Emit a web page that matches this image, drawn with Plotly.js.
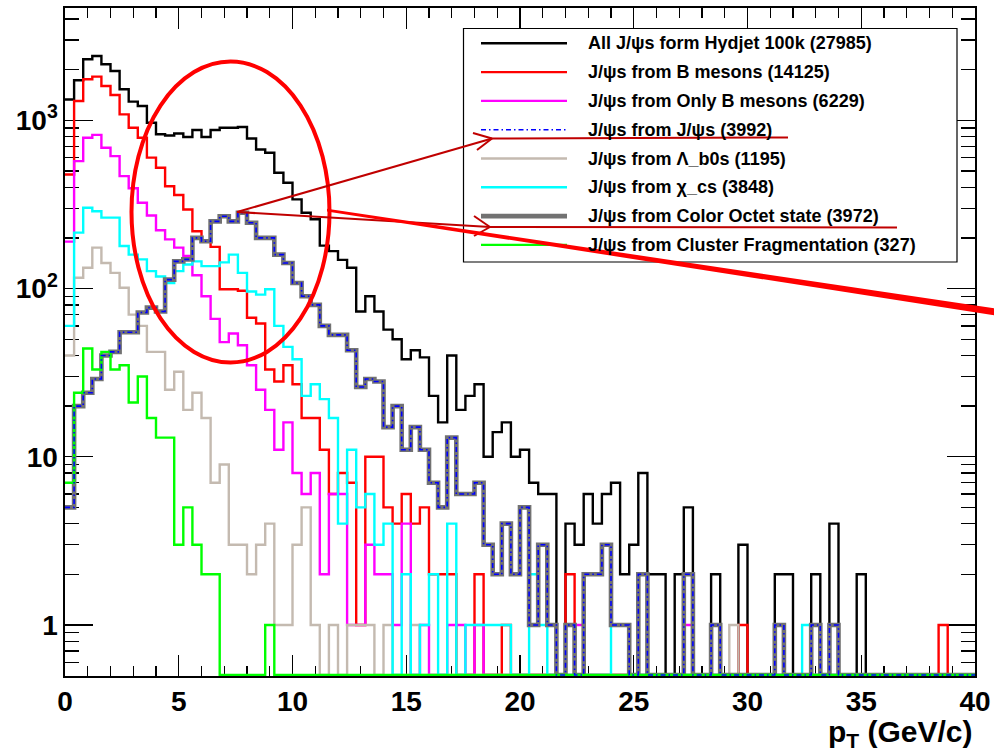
<!DOCTYPE html>
<html>
<head>
<meta charset="utf-8">
<script src="https://cdn.plot.ly/plotly-3.0.1.min.js"></script>
<style>
html,body{margin:0;padding:0;background:#fff;}
#chart{width:994px;height:753px;}
</style>
</head>
<body>
<div id="chart"></div>
<script>
// ---------------- data (counts per 0.4 GeV/c bin, 0..40 GeV/c) ----------------
const binWidth = 0.4;
const nBins = 100;

const allJpsi = [
 1330,1730,2307,2415,2154,1966,1530,1292,1216,968,
 826,813,835,797,876,797,876,904,904,913,
 780,671,642,488,426,339,282,258,180,167,
 148,133,73,90,73,57,50,38,43,39,
 23,16,40,19,23,27,10,14,16,10,
 11,7,6,6,0,4,3,6,4,6,
 7,2,3,8,2,2,0,2,5,0,
 0,2,0,0,3,0,0,0,2,2,
 0,0,2,0,4,0,0,2,0,0,
 0,0,0,0,0,0,0,0,0,0];

const fromBMesons = [
 477,1303,1754,1820,1600,1414,1086,904,788,600,
 523,406,360,295,219,190,177,99,99,97,
 67,62,33,28,35,27,17,17,11,6,
 8,7,1,10,10,5,4,6,4,5,
 2,2,2,0,0,2,0,0,1,0,
 0,0,0,0,0,2,0,0,0,0,
 0,0,0,0,0,0,0,0,0,0,
 0,0,0,0,1,0,0,0,0,0,
 0,0,0,0,0,0,0,0,0,0,
 0,0,0,0,0,0,1,0,0,0];

const fromOnlyBMesons = [
 190,572,788,820,687,613,466,395,324,272,
 222,196,175,156,120,90,66,48,54,46,
 35,25,19,11,16,8,6,8,2,6,
 6,1,1,3,2,2,1,4,0,1,
 0,0,1,1,0,1,0,0,0,0,
 0,0,0,0,0,0,1,0,0,0,
 0,0,0,0,0,0,0,0,1,0,
 0,0,0,0,0,0,0,0,0,0,
 0,0,0,0,0,0,0,0,0,0,
 0,0,0,0,0,0,0,0,0,0];

const fromJpsi = [
 5,20,24,29,40,42,55,55,72,77,
 73,113,145,149,200,191,251,269,251,282,
 246,200,200,159,142,108,90,80,60,53,
 53,43,26,29,28,15,20,11,15,11,
 7,5,13,6,6,7,3,2,4,2,
 5,1,3,1,0,1,0,2,2,3,
 1,1,0,2,0,0,0,0,2,0,
 0,1,0,0,0,0,0,0,1,0,
 0,0,1,0,1,0,0,0,0,0,
 0,0,0,0,0,0,0,0,0,0];

const fromLambdaB = [
 40,116,133,175,142,124,101,70,60,42,
 42,25,32,19,24,17,7,9,3,3,
 2,3,4,1,1,3,5,1,0,1,
 0,1,1,1,0,1,0,0,1,0,
 0,0,0,0,0,0,0,0,0,0,
 0,0,0,0,0,0,0,0,0,0,
 0,0,0,0,0,0,0,0,0,0,
 0,0,0,1,0,0,0,0,0,0,
 0,0,0,0,0,0,0,0,0,0,
 0,0,0,0,0,0,0,0,0,0];

const fromChiC = [
 60,215,302,288,264,264,179,159,149,127,
 118,108,127,139,145,136,136,143,159,124,
 96,92,99,60,45,38,23,27,22,17,
 4,11,5,6,3,4,0,2,0,1,
 2,0,4,0,1,1,1,1,1,0,
 0,2,1,0,0,0,0,0,0,0,
 1,1,0,0,0,0,0,0,0,0,
 0,0,0,0,0,0,0,0,0,0,
 0,1,0,0,0,0,0,0,0,0,
 0,0,0,0,0,0,0,0,0,0];

const fromColorOctet = [
 5,20,24,29,40,42,55,55,72,77,
 73,113,145,149,200,191,251,269,251,282,
 246,200,200,159,142,108,90,80,60,53,
 53,43,26,29,28,15,20,11,15,11,
 7,5,13,6,6,7,3,2,4,2,
 5,1,3,1,0,1,0,2,2,3,
 1,1,0,2,0,0,0,0,2,0,
 0,1,0,0,0,0,0,0,1,0,
 0,0,1,0,1,0,0,0,0,0,
 0,0,0,0,0,0,0,0,0,0];

const fromCluster = [
 7,24,44,33,42,33,35,21,30,17,
 13,13,3,5,3,2,2,0,0,0,
 0,0,1,0,0,0,0,0,0,0,
 0,0,0,0,0,0,0,0,0,0,
 0,0,0,0,0,0,0,0,0,0,
 0,0,0,0,0,0,0,0,0,0,
 0,0,0,0,0,0,0,0,0,0,
 0,0,0,0,0,0,0,0,0,0,
 0,0,0,0,0,0,0,0,0,0,
 0,0,0,0,0,0,0,0,0,0];

const seriesNames = [
 'All J/ψs form Hydjet 100k (27985)',
 'J/ψs from B mesons (14125)',
 'J/ψs from Only B mesons (6229)',
 'J/ψs from J/ψs (3992)',
 'J/ψs from Λ_b0s (1195)',
 'J/ψs from χ_cs (3848)',
 'J/ψs from Color Octet state (3972)',
 'J/ψs from Cluster Fragmentation (327)'
];

const xTickVals = [0,5,10,15,20,25,30,35,40];
const yTickVals = [1,10,100,1000];
const yTickText = ['1','10','10<sup>2</sup>','10<sup>3</sup>'];

// ---------------- styles ----------------
const FONT = 'Liberation Sans, Arial, Helvetica, sans-serif';
const yRange = [-0.3036, 3.668];
const ZERO_LEVEL = Math.pow(10, yRange[0] + 0.006); // empty bins drop to the frame bottom

const styles = [
 {color:'#000000', width:2.4},
 {color:'#ff0000', width:2.4},
 {color:'#ff00ff', width:2.4},
 {color:'#0000ff', width:1.6, dash:'5px,3px,1.5px,3px'},
 {color:'#c4bab0', width:2.4},
 {color:'#00ffff', width:2.4},
 {color:'#727272', width:4.6},
 {color:'#00ff00', width:2.4}
];
const seriesData = [allJpsi, fromBMesons, fromOnlyBMesons, fromJpsi, fromLambdaB, fromChiC, fromColorOctet, fromCluster];

// histogram edges
const edges = [];
for (let i = 0; i <= nBins; i++) edges.push(+(i * binWidth).toFixed(4));

function histTrace(vals, idx) {
  const y = vals.map(v => v > 0 ? v : ZERO_LEVEL);
  y.push(y[y.length - 1]);
  const st = styles[idx];
  return {
    x: edges, y: y, type: 'scatter', mode: 'lines', name: seriesNames[idx],
    line: {shape: 'hv', color: st.color, width: st.width, dash: st.dash || 'solid'},
    hoverinfo: 'skip'
  };
}

// draw order: black, red, magenta, beige, cyan, gray, green, blue
const order = [0,1,2,4,5,6,7,3];
const traces = order.map(i => histTrace(seriesData[i], i));

// ---------------- overlay geometry (pixel -> paper) ----------------
const L = 65, R = 19, T = 8, B = 77, W = 994, H = 753;
const PW = W - L - R, PH = H - T - B;
const X = px => (px - L) / PW;
const Y = py => (H - B - py) / PH;

const shapes = [];
// legend box
shapes.push({type:'rect', xref:'paper', yref:'paper', layer:'above',
  x0:X(463.5), x1:X(957), y0:Y(262), y1:Y(28.5),
  fillcolor:'#ffffff', line:{color:'#000000', width:1.2}});
const rowY = [43.3, 72.1, 100.9, 129.7, 158.5, 187.3, 216.1, 244.9];
const legendOrder = [0,1,2,3,4,5,6,7];
legendOrder.forEach((i, r) => {
  const st = styles[i];
  shapes.push({type:'line', xref:'paper', yref:'paper', layer:'above',
    x0:X(481), x1:X(567), y0:Y(rowY[r]), y1:Y(rowY[r]),
    line:{color:st.color, width:st.width, dash: st.dash || 'solid'}});
});
// red ellipse
shapes.push({type:'circle', xref:'paper', yref:'paper', layer:'above',
  x0:X(131.5), x1:X(329.5), y0:Y(362.5), y1:Y(61.5),
  line:{color:'#ff0000', width:4}});
// thin dark-red arrows with underlines
const DR = '#c00000';
function seg(x0,y0,x1,y1,w,c){
  shapes.push({type:'line', xref:'paper', yref:'paper', layer:'above',
    x0:X(x0), y0:Y(y0), x1:X(x1), y1:Y(y1), line:{color:c, width:w}});
}
seg(237,212,492,138.5,2,DR);
seg(492,138.5,473,133,2,DR);
seg(492,138.5,477,150,2,DR);
seg(492,138.5,788,137.5,2,DR);
seg(237,212,490,227,2,DR);
seg(490,227,474,216,2,DR);
seg(490,227,474,236,2,DR);
seg(490,227,897,227.5,2,DR);
// thick red wedge line
shapes.push({type:'path', xref:'paper', yref:'paper', layer:'above',
  path:'M '+X(327)+','+Y(208.8)+' L '+X(996)+','+Y(308.5)+' L '+X(996)+','+Y(315.5)+' L '+X(327)+','+Y(211.4)+' Z',
  fillcolor:'#ff0000', line:{width:0}});

const annotations = [];
legendOrder.forEach((i, r) => {
  annotations.push({xref:'paper', yref:'paper', x:X(586), y:Y(rowY[r]),
    xanchor:'left', yanchor:'middle', showarrow:false,
    text:'<b>' + seriesNames[i] + '</b>',
    font:{family:FONT, size:18, color:'#000000'}});
});
// x axis title
annotations.push({xref:'paper', yref:'paper', x:X(975), y:Y(733),
  xanchor:'right', yanchor:'middle', showarrow:false,
  text:'<b>p<sub>T</sub> (GeV/c)</b>',
  font:{family:FONT, size:30, color:'#000000'}});

// minor tick positions
const xMinor = [];
for (let v = 1; v < 40; v++) if (v % 5 !== 0) xMinor.push(v);
const yMinor = [];
[0.1,1,10,100,1000].forEach(d => { for (let m = 2; m <= 9; m++) { const v = m*d; if (v >= 0.5 && v <= 4600) yMinor.push(v); } });

const layout = {
  width: W, height: H,
  margin: {l:L, r:R, t:T, b:B, pad:0},
  paper_bgcolor:'#ffffff', plot_bgcolor:'#ffffff',
  showlegend:false,
  font:{family:FONT, color:'#000000'},
  xaxis:{
    range:[0,40], tickmode:'array', tickvals:xTickVals,
    ticks:'inside', ticklen:21, tickwidth:1.3, tickcolor:'#000',
    showline:true, linecolor:'#000', linewidth:1.6, mirror:'ticks',
    showgrid:false, zeroline:false, layer:'below traces',
    tickfont:{family:FONT, size:28, color:'#000', weight:'bold'},
    minor:{tickmode:'array', tickvals:xMinor, ticks:'inside', ticklen:10, tickwidth:1.3, tickcolor:'#000', showgrid:false},
    fixedrange:true
  },
  yaxis:{
    type:'log', range:yRange, tickmode:'array', tickvals:yTickVals, ticktext:yTickText,
    ticks:'inside', ticklen:28, tickwidth:1.3, tickcolor:'#000',
    showline:true, linecolor:'#000', linewidth:1.6, mirror:'ticks',
    showgrid:false, zeroline:false, layer:'below traces',
    tickfont:{family:FONT, size:28, color:'#000', weight:'bold'},
    minor:{tickmode:'array', tickvals:yMinor, ticks:'inside', ticklen:14, tickwidth:1.3, tickcolor:'#000', showgrid:false},
    fixedrange:true
  },
  shapes: shapes,
  annotations: annotations
};

Plotly.newPlot('chart', traces, layout, {displayModeBar:false, staticPlot:true});
</script>
</body>
</html>
